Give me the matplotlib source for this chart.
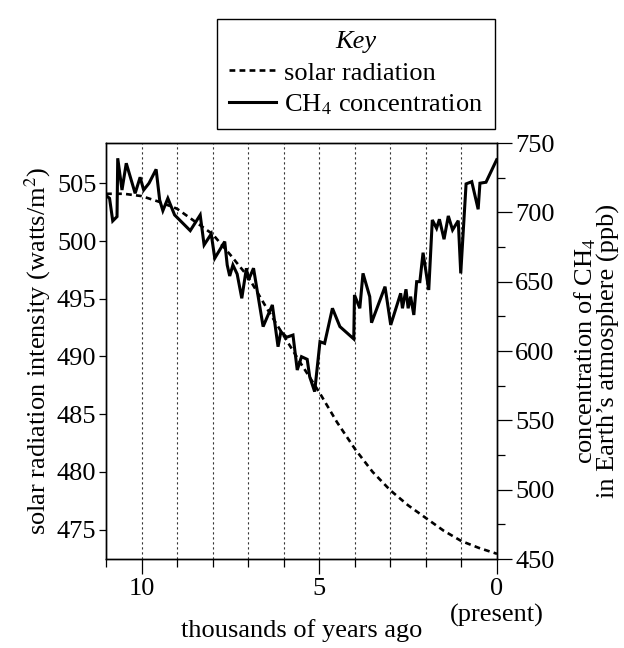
import matplotlib
matplotlib.use("Agg")
import matplotlib.pyplot as plt
from matplotlib.lines import Line2D

plt.rcParams['font.family'] = ['Liberation Serif', 'DejaVu Serif']
plt.rcParams['mathtext.fontset'] = 'stix'
plt.rcParams['font.size'] = 19

# solar radiation (watts/m2)
solar_kyr = [11, 10.5, 10, 9.5, 9, 8.5, 8, 7.5, 7, 6.5, 6, 5.5, 5,
             4.5, 4, 3.5, 3, 2.5, 2, 1.5, 1, 0.5, 0]
solar_val = [504.1, 504.1, 503.9, 503.4, 502.8, 501.7, 500.6, 498.8, 496.9,
             494.3, 491.8, 489.3, 486.9, 484.3, 482.0, 480.0, 478.4, 477.1,
             476.0, 474.9, 474.0, 473.4, 472.9]

# CH4 concentration (ppb)
ch4_kyr = [10.98, 10.90, 10.81, 10.69, 10.67, 10.55, 10.43, 10.18, 10.04, 9.94,
           9.79, 9.59, 9.49, 9.40, 9.26, 9.07, 8.63, 8.35, 8.24, 8.04,
           7.94, 7.66, 7.59, 7.52, 7.43, 7.31, 7.18, 7.05, 6.99, 6.85,
           6.58, 6.32, 6.16, 6.08, 5.92, 5.74, 5.62, 5.50, 5.34, 5.27,
           5.13, 4.98, 4.85, 4.63, 4.42, 4.03, 4.01, 3.86, 3.77, 3.58,
           3.53, 3.15, 2.99, 2.71, 2.66, 2.56, 2.50, 2.43, 2.34, 2.26,
           2.17, 2.08, 1.92, 1.82, 1.70, 1.62, 1.49, 1.37, 1.25, 1.09,
           1.02, 0.87, 0.71, 0.53, 0.48, 0.31, 0.01]
ch4_val = [711.8, 710.1, 693.8, 696.9, 739.0, 716.1, 735.4, 713.7, 725.3, 716.1,
           721.0, 731.0, 708.9, 701.2, 710.1, 698.1, 686.8, 698.1, 676.5, 684.4,
           666.9, 678.9, 662.0, 654.1, 662.0, 655.5, 638.0, 659.7, 651.2, 659.7,
           617.6, 633.2, 603.1, 613.9, 609.9, 611.5, 586.3, 595.9, 594.0, 581.5,
           570.7, 606.7, 605.5, 630.8, 617.6, 608.7, 640.4, 630.8, 656.0, 639.2,
           620.4, 646.4, 618.8, 641.6, 630.8, 644.5, 630.8, 639.2, 626.0, 650.0,
           650.0, 670.9, 644.0, 694.5, 688.5, 695.0, 680.6, 697.4, 687.3, 694.0,
           656.0, 720.5, 722.1, 702.2, 721.0, 721.7, 737.9]

left_ticks = [475, 480, 485, 490, 495, 500, 505]
right_ticks = [450, 500, 550, 600, 650, 700, 750]
x_ticks = [10, 5, 0]
x_labels = ['10', '5', '0\n(present)']

fig = plt.figure(figsize=(6.24, 6.48), dpi=100)
ax = fig.add_axes([106/624, 1 - 559/648, 391/624, 416/648])
ax2 = ax.twinx()

# dotted gridlines every thousand years
for k in range(1, 11):
    ax.axvline(k, color='#333333', lw=0.8, ls=(0, (2, 2.5)), zorder=1)

ax.plot(solar_kyr, solar_val, color='black', lw=1.9, ls=(0, (2.2, 1.6)), zorder=3)
ax2.plot(ch4_kyr, ch4_val, color='black', lw=2.2, solid_joinstyle='miter', zorder=3)

ax.set_xlim(11, 0)
ax.set_ylim(472.45, 508.5)
ax2.set_ylim(450, 750)

ax.set_xticks(x_ticks)
ax.set_xticklabels(x_labels)
ax.set_xticks(range(0, 12), minor=True)
ax.set_yticks(left_ticks)
ax2.set_yticks(right_ticks)
ax2.set_yticks(range(475, 750, 50), minor=True)

ax.tick_params(axis='x', which='major', direction='out', length=11, width=0.9, pad=3)
ax.tick_params(axis='x', which='minor', direction='out', length=5.5, width=0.9)
ax.tick_params(axis='y', which='major', direction='out', length=5, width=0.9, pad=2)
ax2.tick_params(axis='y', which='major', direction='out', length=11, width=0.9, pad=2)
ax2.tick_params(axis='y', which='minor', direction='out', length=5.5, width=0.9)

for a in (ax, ax2):
    for s in a.spines.values():
        s.set_linewidth(1.0)

ax.set_xlabel('thousands of years ago', labelpad=-6)
ax.set_ylabel('solar radiation intensity (watts/m$^2$)', labelpad=3)
ax2.set_ylabel('concentration of CH$_4$\nin Earth\u2019s atmosphere (ppb)', labelpad=13,
               linespacing=0.95)

handles = [Line2D([], [], color='black', lw=1.9, ls=(0, (2.2, 1.6))),
           Line2D([], [], color='black', lw=2.2)]
leg = ax2.legend(handles, ['solar radiation', 'CH$_4$ concentration'], title='Key',
                 loc='lower right', bbox_to_anchor=(495/624, 1 - 129/648),
                 bbox_transform=fig.transFigure, borderaxespad=0, fancybox=False,
                 edgecolor='black', framealpha=1, handlelength=1.8,
                 handletextpad=0.3, labelspacing=0.3, borderpad=0.45,
                 fontsize=19, title_fontsize=19)
leg.get_frame().set_linewidth(1.0)
leg.get_title().set_fontstyle('italic')

fig.savefig('out.png', dpi=100)
